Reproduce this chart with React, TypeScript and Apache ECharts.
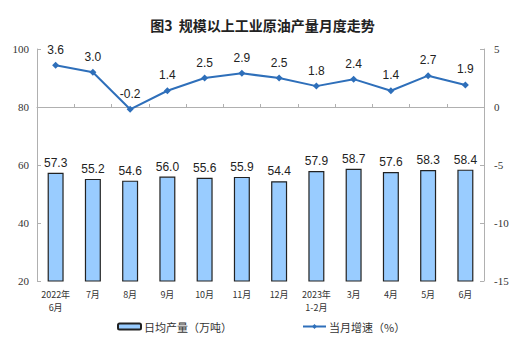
import React, { useEffect, useRef } from "react";
import * as echarts from "echarts";

const categories = ["2022年\n6月", "7月", "8月", "9月", "10月", "11月", "12月", "2023年\n1-2月", "3月", "4月", "5月", "6月"];
const dailyOutput = [57.3, 55.2, 54.6, 56.0, 55.6, 55.9, 54.4, 57.9, 58.7, 57.6, 58.3, 58.4];
const growthRate = [3.6, 3.0, -0.2, 1.4, 2.5, 2.9, 2.5, 1.8, 2.4, 1.4, 2.7, 1.9];
const titleText = "图3  规模以上工业原油产量月度走势";
const barName = "日均产量（万吨）";
const lineName = "当月增速（%）";

export default function App() {
  const ref = useRef<HTMLDivElement>(null);
  useEffect(() => {
    document.body.style.margin = "0";
    const chart = echarts.init(ref.current!, null, { renderer: "svg" });
    const axisLine = { show: true, lineStyle: { color: "#b0b0b0", width: 1 } };
    chart.setOption({
      animation: false,
      backgroundColor: "#ffffff",
      title: {
        text: titleText,
        left: "center",
        top: 13,
        textStyle: { fontSize: 14, fontWeight: "bold", color: "#222", fontFamily: "Noto Sans CJK SC" },
      },
      legend: {
        left: 112,
        top: 316,
        itemGap: 70,
        itemWidth: 23,
        itemHeight: 6,
        textStyle: { fontSize: 11, color: "#333", fontFamily: "Noto Sans CJK SC", padding: [0, 0, 0, -2] },
        data: [
          { name: barName, icon: "roundRect" },
          { name: lineName },
        ],
      },
      grid: { left: 37, right: 41, top: 49, bottom: 74 },
      xAxis: {
        type: "category",
        data: categories,
        axisLine,
        axisTick: { show: true, inside: true, length: 3, lineStyle: { color: "#b0b0b0" } },
        axisLabel: { fontSize: 9, color: "#333", lineHeight: 13, margin: 7, fontFamily: "Noto Sans CJK SC", interval: 0 },
      },
      yAxis: [
        {
          type: "value",
          min: 20,
          max: 100,
          interval: 20,
          axisLine,
          axisTick: { show: true, inside: true, length: 4, lineStyle: { color: "#b0b0b0" } },
          splitLine: { show: false },
          axisLabel: { fontSize: 11, color: "#333", fontFamily: "Liberation Serif", margin: 8 },
        },
        {
          type: "value",
          min: -15,
          max: 5,
          interval: 5,
          axisLine,
          axisTick: { show: true, inside: true, length: 4, lineStyle: { color: "#b0b0b0" } },
          splitLine: { show: false },
          axisLabel: { fontSize: 11, color: "#333", fontFamily: "Liberation Serif", margin: 10 },
        },
      ],
      series: [
        {
          name: barName,
          type: "bar",
          data: dailyOutput,
          barWidth: 16,
          itemStyle: { color: "#99ccff", borderColor: "#222", borderWidth: 1.2 },
          label: {
            show: true,
            position: "top",
            distance: 4,
            formatter: (p: any) => p.value.toFixed(1),
            fontSize: 12,
            color: "#222",
            fontFamily: "Liberation Sans",
          },
        },
        {
          name: lineName,
          type: "line",
          yAxisIndex: 1,
          data: growthRate,
          symbol: "diamond",
          symbolSize: 7,
          lineStyle: { color: "#2e6fba", width: 2 },
          itemStyle: { color: "#2e6fba" },
          label: {
            show: true,
            position: "top",
            distance: 6,
            formatter: (p: any) => p.value.toFixed(1),
            fontSize: 12,
            color: "#222",
            fontFamily: "Liberation Sans",
          },
        },
      ],
    });
    return () => chart.dispose();
  }, []);
  return <div ref={ref} style={{ width: 525, height: 355 }} />;
}
